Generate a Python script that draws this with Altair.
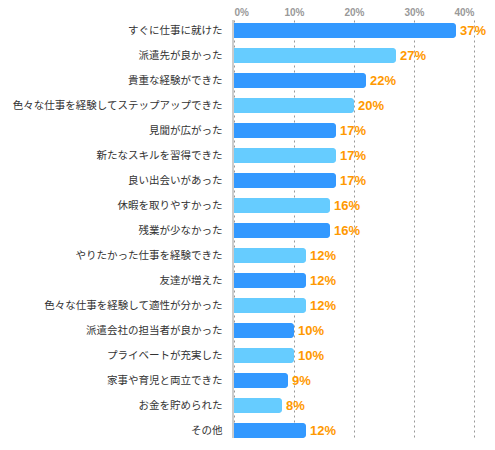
import altair as alt
import pandas as pd

categories = [
    "すぐに仕事に就けた",
    "派遣先が良かった",
    "貴重な経験ができた",
    "色々な仕事を経験してステップアップできた",
    "見聞が広がった",
    "新たなスキルを習得できた",
    "良い出会いがあった",
    "休暇を取りやすかった",
    "残業が少なかった",
    "やりたかった仕事を経験できた",
    "友達が増えた",
    "色々な仕事を経験して適性が分かった",
    "派遣会社の担当者が良かった",
    "プライベートが充実した",
    "家事や育児と両立できた",
    "お金を貯められた",
    "その他",
]
values = [37, 27, 22, 20, 17, 17, 17, 16, 16, 12, 12, 12, 10, 10, 9, 8, 12]
tick_values = [0, 10, 20, 30, 40]
shade_names = ["濃", "淡"]
shade_colors = ["#3399FF", "#66CCFF"]

df = pd.DataFrame({
    "category": categories,
    "value": values,
    "shade": [shade_names[i % 2] for i in range(len(categories))],
})

y_enc = alt.Y(
    "category:N",
    sort=None,
    scale=alt.Scale(paddingInner=0.4, paddingOuter=0.06, align=1),
    axis=alt.Axis(
        title=None, ticks=False, domain=False, labelPadding=12,
        labelFont="Noto Sans CJK JP", labelFontSize=10.5, labelColor="#333333",
        labelLimit=300,
    ),
)
x_enc = alt.X(
    "value:Q",
    scale=alt.Scale(domain=[0, 40], nice=False),
    axis=alt.Axis(
        orient="top", title=None, values=tick_values, labelExpr="datum.value + '%'",
        ticks=False, domain=False, grid=True, gridDash=[2, 3], gridColor="#999999",
        gridWidth=1, labelFont="Liberation Sans", labelFontWeight="bold",
        labelFontSize=10, labelColor="#999999", labelPadding=3,
    ),
)

bars = alt.Chart(df).mark_bar(cornerRadiusEnd=3).encode(
    y=y_enc,
    x=x_enc,
    color=alt.Color("shade:N", scale=alt.Scale(domain=shade_names, range=shade_colors), legend=None),
)

zero = alt.Chart(pd.DataFrame({"z": [0]})).mark_rule(color="#cccccc", strokeWidth=2, xOffset=-1).encode(
    x=alt.X("z:Q", scale=alt.Scale(domain=[0, 40], nice=False))
)

labels = alt.Chart(df).mark_text(
    align="left", baseline="middle", dx=4, font="Liberation Sans",
    fontWeight="bold", fontSize=13, color="#FF9900",
).encode(
    y=alt.Y("category:N", sort=None),
    x=alt.X("value:Q"),
    text=alt.Text("label:N"),
).transform_calculate(label="datum.value + '%'")

chart = alt.layer(zero, bars, labels).properties(
    width=240,
    height=418,
    padding={"left": 226, "top": 12, "right": 13, "bottom": 0},
    autosize=alt.AutoSizeParams(type="none"),
    background="white",
).configure_view(stroke=None)

chart.save("out.html", embed_options={"renderer": "svg", "actions": False})
